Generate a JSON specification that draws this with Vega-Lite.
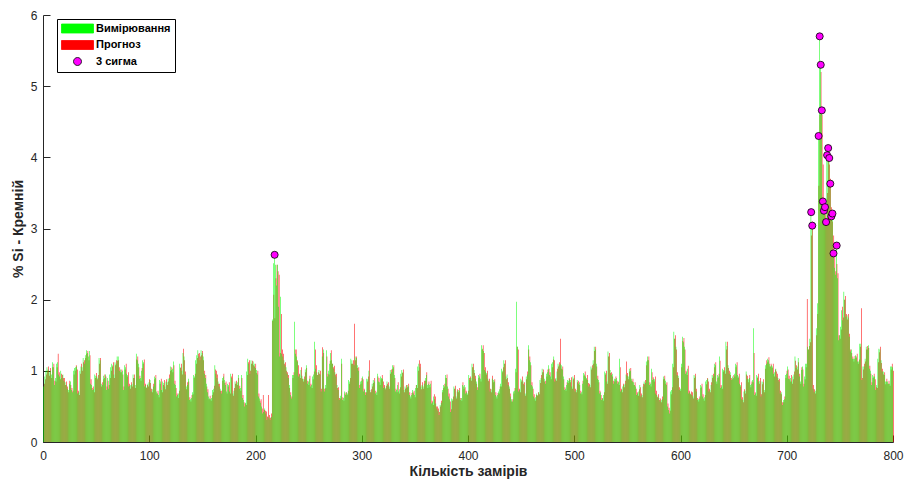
{
"$schema":"https://vega.github.io/schema/vega-lite/v6.json",
"width":850,"height":427,
"autosize":{"type":"none"},
"padding":{"left":43,"top":15,"right":12,"bottom":41},
"background":"white",
"config":{"view":{"stroke":null},"font":"Liberation Sans",
"axis":{"grid":false,"domainColor":"#262626","tickColor":"#262626","labelColor":"#262626","titleColor":"#262626","labelFont":"Liberation Sans","titleFont":"Liberation Sans","labelFontSize":12,"titleFontSize":14,"titleFontWeight":"bold","tickSize":-7,"labelPadding":13,"labelFlush":false,"domainWidth":1,"tickWidth":1}},
"datasets":{
"main":[
{"n":1,"meas":0.78,"pred":0.82},{"n":2,"meas":0.92,"pred":0.88},{"n":3,"meas":1.0,"pred":0.95},{"n":4,"meas":1.05,"pred":1.0},{"n":5,"meas":1.02,"pred":1.06},{"n":6,"meas":0.98,"pred":0.93},{"n":7,"meas":1.0,"pred":1.04},{"n":8,"meas":0.95,"pred":0.9},{"n":9,"meas":1.12,"pred":1.05},{"n":10,"meas":1.05,"pred":1.1},
{"n":11,"meas":0.8,"pred":0.86},{"n":12,"meas":0.9,"pred":0.85},{"n":13,"meas":1.1,"pred":1.05},{"n":14,"meas":1.12,"pred":1.24},{"n":15,"meas":0.95,"pred":0.98},{"n":16,"meas":0.92,"pred":0.88},{"n":17,"meas":1.0,"pred":0.96},{"n":18,"meas":0.9,"pred":0.94},{"n":19,"meas":0.95,"pred":0.9},{"n":20,"meas":0.86,"pred":0.9},
{"n":21,"meas":0.84,"pred":0.8},{"n":22,"meas":0.8,"pred":0.85},{"n":23,"meas":0.75,"pred":0.78},{"n":24,"meas":0.73,"pred":0.7},{"n":25,"meas":0.82,"pred":0.86},{"n":26,"meas":0.85,"pred":0.8},{"n":27,"meas":0.73,"pred":0.76},{"n":28,"meas":0.7,"pred":0.72},{"n":29,"meas":1.0,"pred":0.95},{"n":30,"meas":1.04,"pred":1.0},
{"n":31,"meas":1.05,"pred":1.08},{"n":32,"meas":1.06,"pred":1.02},{"n":33,"meas":0.68,"pred":0.72},{"n":34,"meas":0.7,"pred":0.66},{"n":35,"meas":1.0,"pred":0.96},{"n":36,"meas":1.06,"pred":1.1},{"n":37,"meas":1.05,"pred":1.0},{"n":38,"meas":1.18,"pred":1.12},{"n":39,"meas":1.1,"pred":1.15},{"n":40,"meas":1.22,"pred":1.18},
{"n":41,"meas":1.29,"pred":1.24},{"n":42,"meas":1.25,"pred":1.28},{"n":43,"meas":1.2,"pred":1.15},{"n":44,"meas":1.28,"pred":1.22},{"n":45,"meas":0.82,"pred":0.88},{"n":46,"meas":0.8,"pred":0.76},{"n":47,"meas":0.73,"pred":0.78},{"n":48,"meas":0.74,"pred":0.7},{"n":49,"meas":0.95,"pred":0.9},{"n":50,"meas":0.93,"pred":0.97},
{"n":51,"meas":0.92,"pred":0.88},{"n":52,"meas":0.9,"pred":0.94},{"n":53,"meas":1.18,"pred":1.1},{"n":54,"meas":1.15,"pred":1.18},{"n":55,"meas":0.82,"pred":0.78},{"n":56,"meas":0.8,"pred":0.84},{"n":57,"meas":0.93,"pred":0.88},{"n":58,"meas":0.9,"pred":0.95},{"n":59,"meas":0.95,"pred":0.92},{"n":60,"meas":0.73,"pred":0.78},
{"n":61,"meas":0.9,"pred":0.86},{"n":62,"meas":0.75,"pred":0.8},{"n":63,"meas":0.95,"pred":0.9},{"n":64,"meas":1.05,"pred":1.0},{"n":65,"meas":1.1,"pred":1.06},{"n":66,"meas":1.08,"pred":1.12},{"n":67,"meas":0.95,"pred":0.9},{"n":68,"meas":1.12,"pred":1.08},{"n":69,"meas":1.1,"pred":1.15},{"n":70,"meas":1.2,"pred":1.14},
{"n":71,"meas":1.2,"pred":1.15},{"n":72,"meas":1.0,"pred":1.05},{"n":73,"meas":1.02,"pred":0.98},{"n":74,"meas":0.98,"pred":1.02},{"n":75,"meas":1.0,"pred":0.95},{"n":76,"meas":0.73,"pred":0.78},{"n":77,"meas":1.08,"pred":1.02},{"n":78,"meas":1.05,"pred":1.1},{"n":79,"meas":0.96,"pred":0.92},{"n":80,"meas":0.94,"pred":0.98},
{"n":81,"meas":0.78,"pred":0.82},{"n":82,"meas":0.79,"pred":0.75},{"n":83,"meas":0.8,"pred":0.84},{"n":84,"meas":0.81,"pred":0.78},{"n":85,"meas":0.95,"pred":0.9},{"n":86,"meas":0.9,"pred":0.95},{"n":87,"meas":0.8,"pred":0.76},{"n":88,"meas":1.24,"pred":1.16},{"n":89,"meas":1.15,"pred":1.2},{"n":90,"meas":1.1,"pred":1.05},
{"n":91,"meas":0.89,"pred":0.93},{"n":92,"meas":0.9,"pred":0.86},{"n":93,"meas":1.0,"pred":1.04},{"n":94,"meas":1.15,"pred":1.1},{"n":95,"meas":1.12,"pred":1.16},{"n":96,"meas":0.78,"pred":0.82},{"n":97,"meas":0.8,"pred":0.76},{"n":98,"meas":0.77,"pred":0.8},{"n":99,"meas":0.82,"pred":0.78},{"n":100,"meas":0.84,"pred":0.88},
{"n":101,"meas":0.87,"pred":0.83},{"n":102,"meas":0.71,"pred":0.75},{"n":103,"meas":0.74,"pred":0.7},{"n":104,"meas":0.78,"pred":0.82},{"n":105,"meas":0.92,"pred":0.88},{"n":106,"meas":0.9,"pred":0.94},{"n":107,"meas":0.71,"pred":0.68},{"n":108,"meas":0.68,"pred":0.72},{"n":109,"meas":0.66,"pred":0.63},{"n":110,"meas":0.87,"pred":0.82},
{"n":111,"meas":0.85,"pred":0.89},{"n":112,"meas":0.73,"pred":0.7},{"n":113,"meas":0.85,"pred":0.8},{"n":114,"meas":0.83,"pred":0.87},{"n":115,"meas":0.78,"pred":0.74},{"n":116,"meas":0.85,"pred":0.88},{"n":117,"meas":0.84,"pred":0.8},{"n":118,"meas":0.89,"pred":0.85},{"n":119,"meas":0.9,"pred":0.95},{"n":120,"meas":1.06,"pred":1.0},
{"n":121,"meas":1.01,"pred":1.05},{"n":122,"meas":1.03,"pred":0.98},{"n":123,"meas":1.13,"pred":1.08},{"n":124,"meas":0.82,"pred":0.86},{"n":125,"meas":0.8,"pred":0.76},{"n":126,"meas":0.64,"pred":0.68},{"n":127,"meas":0.66,"pred":0.62},{"n":128,"meas":0.68,"pred":0.72},{"n":129,"meas":1.1,"pred":1.04},{"n":130,"meas":1.05,"pred":1.1},
{"n":131,"meas":1.0,"pred":0.95},{"n":132,"meas":1.25,"pred":1.31},{"n":133,"meas":1.2,"pred":1.15},{"n":134,"meas":0.95,"pred":0.99},{"n":135,"meas":0.78,"pred":0.74},{"n":136,"meas":0.8,"pred":0.84},{"n":137,"meas":0.89,"pred":0.85},{"n":138,"meas":0.59,"pred":0.63},{"n":139,"meas":0.6,"pred":0.57},{"n":140,"meas":0.62,"pred":0.66},
{"n":141,"meas":0.7,"pred":0.67},{"n":142,"meas":0.94,"pred":0.9},{"n":143,"meas":0.92,"pred":0.96},{"n":144,"meas":1.15,"pred":1.1},{"n":145,"meas":1.22,"pred":1.18},{"n":146,"meas":1.29,"pred":1.24},{"n":147,"meas":1.2,"pred":1.25},{"n":148,"meas":1.15,"pred":1.2},{"n":149,"meas":1.29,"pred":1.22},{"n":150,"meas":1.25,"pred":1.28},
{"n":151,"meas":1.2,"pred":1.15},{"n":152,"meas":0.96,"pred":1.0},{"n":153,"meas":0.9,"pred":0.94},{"n":154,"meas":0.82,"pred":0.78},{"n":155,"meas":0.7,"pred":0.74},{"n":156,"meas":0.64,"pred":0.6},{"n":157,"meas":0.61,"pred":0.65},{"n":158,"meas":0.6,"pred":0.58},{"n":159,"meas":0.62,"pred":0.66},{"n":160,"meas":0.73,"pred":0.7},
{"n":161,"meas":0.75,"pred":0.79},{"n":162,"meas":1.08,"pred":1.02},{"n":163,"meas":0.96,"pred":1.0},{"n":164,"meas":0.9,"pred":0.95},{"n":165,"meas":0.85,"pred":0.82},{"n":166,"meas":0.78,"pred":0.82},{"n":167,"meas":0.75,"pred":0.72},{"n":168,"meas":0.68,"pred":0.72},{"n":169,"meas":0.9,"pred":0.86},{"n":170,"meas":0.92,"pred":0.96},
{"n":171,"meas":0.87,"pred":0.83},{"n":172,"meas":0.8,"pred":0.85},{"n":173,"meas":0.71,"pred":0.68},{"n":174,"meas":0.82,"pred":0.78},{"n":175,"meas":0.8,"pred":0.84},{"n":176,"meas":0.71,"pred":0.68},{"n":177,"meas":0.96,"pred":0.92},{"n":178,"meas":0.9,"pred":0.96},{"n":179,"meas":0.68,"pred":0.65},{"n":180,"meas":0.72,"pred":0.76},
{"n":181,"meas":0.85,"pred":0.82},{"n":182,"meas":0.82,"pred":0.86},{"n":183,"meas":0.84,"pred":0.8},{"n":184,"meas":0.94,"pred":0.9},{"n":185,"meas":0.75,"pred":0.79},{"n":186,"meas":0.76,"pred":0.72},{"n":187,"meas":0.94,"pred":0.9},{"n":188,"meas":0.62,"pred":0.66},{"n":189,"meas":0.59,"pred":0.56},{"n":190,"meas":0.5,"pred":0.54},
{"n":191,"meas":0.55,"pred":0.52},{"n":192,"meas":0.99,"pred":0.94},{"n":193,"meas":1.17,"pred":1.12},{"n":194,"meas":1.1,"pred":1.15},{"n":195,"meas":0.96,"pred":1.0},{"n":196,"meas":1.15,"pred":1.1},{"n":197,"meas":1.1,"pred":1.14},{"n":198,"meas":1.13,"pred":1.08},{"n":199,"meas":1.1,"pred":1.06},{"n":200,"meas":1.04,"pred":1.1},
{"n":201,"meas":1.01,"pred":0.97},{"n":202,"meas":0.95,"pred":1.0},{"n":203,"meas":0.64,"pred":0.68},{"n":204,"meas":0.61,"pred":0.58},{"n":205,"meas":0.55,"pred":0.6},{"n":206,"meas":0.5,"pred":0.47},{"n":207,"meas":0.4,"pred":0.66},{"n":208,"meas":0.42,"pred":0.45},{"n":209,"meas":0.47,"pred":0.44},{"n":210,"meas":0.4,"pred":0.43},
{"n":211,"meas":0.31,"pred":0.36},{"n":212,"meas":0.35,"pred":0.66},{"n":213,"meas":0.33,"pred":0.38},{"n":214,"meas":0.31,"pred":0.34},{"n":215,"meas":0.35,"pred":0.4},{"n":216,"meas":1.72,"pred":1.7},{"n":217,"meas":2.51,"pred":2.07},{"n":218,"meas":2.63,"pred":1.74},{"n":219,"meas":2.49,"pred":2.3},{"n":220,"meas":2.2,"pred":2.49},
{"n":221,"meas":2.49,"pred":2.4},{"n":222,"meas":1.9,"pred":2.35},{"n":223,"meas":1.2,"pred":1.25},{"n":224,"meas":2.04,"pred":1.8},{"n":225,"meas":1.24,"pred":1.3},{"n":226,"meas":1.2,"pred":1.24},{"n":227,"meas":1.15,"pred":1.1},{"n":228,"meas":1.08,"pred":1.12},{"n":229,"meas":1.05,"pred":1.0},{"n":230,"meas":0.96,"pred":0.98},
{"n":231,"meas":0.9,"pred":0.94},{"n":232,"meas":0.8,"pred":0.76},{"n":233,"meas":0.66,"pred":0.7},{"n":234,"meas":0.61,"pred":0.64},{"n":235,"meas":0.94,"pred":0.9},{"n":236,"meas":0.94,"pred":0.98},{"n":237,"meas":1.69,"pred":1.3},{"n":238,"meas":1.24,"pred":1.3},{"n":239,"meas":1.2,"pred":1.15},{"n":240,"meas":1.13,"pred":1.08},
{"n":241,"meas":0.92,"pred":0.96},{"n":242,"meas":0.95,"pred":0.9},{"n":243,"meas":1.01,"pred":1.05},{"n":244,"meas":0.93,"pred":0.89},{"n":245,"meas":0.89,"pred":0.85},{"n":246,"meas":0.88,"pred":0.92},{"n":247,"meas":1.02,"pred":0.98},{"n":248,"meas":1.08,"pred":1.04},{"n":249,"meas":0.82,"pred":0.86},{"n":250,"meas":0.85,"pred":0.8},
{"n":251,"meas":0.89,"pred":0.93},{"n":252,"meas":0.78,"pred":0.82},{"n":253,"meas":0.8,"pred":0.76},{"n":254,"meas":0.92,"pred":0.88},{"n":255,"meas":0.95,"pred":0.99},{"n":256,"meas":1.41,"pred":1.3},{"n":257,"meas":1.03,"pred":1.08},{"n":258,"meas":0.98,"pred":0.94},{"n":259,"meas":0.94,"pred":0.98},{"n":260,"meas":1.01,"pred":0.96},
{"n":261,"meas":0.95,"pred":1.0},{"n":262,"meas":0.71,"pred":0.75},{"n":263,"meas":1.2,"pred":1.33},{"n":264,"meas":1.3,"pred":1.25},{"n":265,"meas":0.71,"pred":0.75},{"n":266,"meas":0.8,"pred":0.76},{"n":267,"meas":1.29,"pred":1.2},{"n":268,"meas":0.92,"pred":0.96},{"n":269,"meas":1.0,"pred":0.95},{"n":270,"meas":1.1,"pred":1.14},
{"n":271,"meas":1.25,"pred":1.29},{"n":272,"meas":1.15,"pred":1.1},{"n":273,"meas":1.1,"pred":1.05},{"n":274,"meas":1.03,"pred":1.07},{"n":275,"meas":0.98,"pred":0.95},{"n":276,"meas":0.92,"pred":0.96},{"n":277,"meas":0.8,"pred":0.76},{"n":278,"meas":0.73,"pred":0.77},{"n":279,"meas":0.59,"pred":0.62},{"n":280,"meas":0.65,"pred":0.61},
{"n":281,"meas":1.17,"pred":1.1},{"n":282,"meas":0.59,"pred":0.63},{"n":283,"meas":0.62,"pred":0.58},{"n":284,"meas":0.71,"pred":0.68},{"n":285,"meas":0.66,"pred":0.7},{"n":286,"meas":0.7,"pred":0.66},{"n":287,"meas":0.68,"pred":0.72},{"n":288,"meas":0.87,"pred":0.82},{"n":289,"meas":0.85,"pred":0.9},{"n":290,"meas":1.17,"pred":1.1},
{"n":291,"meas":1.15,"pred":1.1},{"n":292,"meas":1.1,"pred":1.15},{"n":293,"meas":1.08,"pred":1.66},{"n":294,"meas":1.2,"pred":1.15},{"n":295,"meas":1.18,"pred":1.2},{"n":296,"meas":1.08,"pred":1.04},{"n":297,"meas":1.0,"pred":1.05},{"n":298,"meas":0.76,"pred":0.8},{"n":299,"meas":0.85,"pred":0.82},{"n":300,"meas":0.86,"pred":0.9},
{"n":301,"meas":0.92,"pred":0.88},{"n":302,"meas":0.71,"pred":0.75},{"n":303,"meas":0.73,"pred":0.7},{"n":304,"meas":0.66,"pred":0.7},{"n":305,"meas":0.89,"pred":0.85},{"n":306,"meas":0.88,"pred":0.92},{"n":307,"meas":1.0,"pred":1.15},{"n":308,"meas":0.73,"pred":0.7},{"n":309,"meas":0.7,"pred":0.74},{"n":310,"meas":0.82,"pred":0.78},
{"n":311,"meas":0.87,"pred":0.83},{"n":312,"meas":0.85,"pred":0.9},{"n":313,"meas":0.68,"pred":0.72},{"n":314,"meas":0.7,"pred":0.66},{"n":315,"meas":0.96,"pred":0.92},{"n":316,"meas":0.85,"pred":0.9},{"n":317,"meas":0.84,"pred":0.8},{"n":318,"meas":0.92,"pred":0.88},{"n":319,"meas":0.9,"pred":0.94},{"n":320,"meas":0.89,"pred":0.85},
{"n":321,"meas":0.76,"pred":0.8},{"n":322,"meas":0.78,"pred":0.74},{"n":323,"meas":0.76,"pred":0.79},{"n":324,"meas":0.85,"pred":0.82},{"n":325,"meas":0.8,"pred":0.84},{"n":326,"meas":0.78,"pred":0.75},{"n":327,"meas":1.01,"pred":0.96},{"n":328,"meas":0.98,"pred":1.02},{"n":329,"meas":1.08,"pred":1.03},{"n":330,"meas":1.05,"pred":1.08},
{"n":331,"meas":0.94,"pred":0.9},{"n":332,"meas":0.71,"pred":0.75},{"n":333,"meas":0.73,"pred":0.7},{"n":334,"meas":0.8,"pred":0.84},{"n":335,"meas":0.71,"pred":0.68},{"n":336,"meas":0.74,"pred":0.77},{"n":337,"meas":0.96,"pred":0.92},{"n":338,"meas":1.01,"pred":0.97},{"n":339,"meas":0.98,"pred":1.02},{"n":340,"meas":0.73,"pred":0.7},
{"n":341,"meas":0.78,"pred":0.75},{"n":342,"meas":0.76,"pred":0.8},{"n":343,"meas":0.8,"pred":0.77},{"n":344,"meas":0.78,"pred":0.82},{"n":345,"meas":0.66,"pred":0.7},{"n":346,"meas":0.64,"pred":0.61},{"n":347,"meas":0.66,"pred":0.69},{"n":348,"meas":0.73,"pred":0.7},{"n":349,"meas":0.68,"pred":0.72},{"n":350,"meas":0.66,"pred":0.63},
{"n":351,"meas":0.76,"pred":0.8},{"n":352,"meas":0.8,"pred":0.76},{"n":353,"meas":1.06,"pred":1.0},{"n":354,"meas":1.1,"pred":1.15},{"n":355,"meas":1.05,"pred":1.1},{"n":356,"meas":0.78,"pred":0.74},{"n":357,"meas":0.8,"pred":0.84},{"n":358,"meas":0.78,"pred":0.75},{"n":359,"meas":0.82,"pred":0.86},{"n":360,"meas":0.9,"pred":0.86},
{"n":361,"meas":0.94,"pred":0.98},{"n":362,"meas":0.8,"pred":0.76},{"n":363,"meas":0.82,"pred":0.85},{"n":364,"meas":0.8,"pred":0.77},{"n":365,"meas":0.82,"pred":0.86},{"n":366,"meas":0.54,"pred":0.58},{"n":367,"meas":0.56,"pred":0.52},{"n":368,"meas":0.64,"pred":0.67},{"n":369,"meas":0.6,"pred":0.64},{"n":370,"meas":0.54,"pred":0.5},
{"n":371,"meas":0.47,"pred":0.5},{"n":372,"meas":0.44,"pred":0.47},{"n":373,"meas":0.38,"pred":0.42},{"n":374,"meas":0.52,"pred":0.5},{"n":375,"meas":0.55,"pred":0.58},{"n":376,"meas":0.73,"pred":0.7},{"n":377,"meas":0.8,"pred":0.76},{"n":378,"meas":0.78,"pred":0.82},{"n":379,"meas":0.94,"pred":0.9},{"n":380,"meas":0.9,"pred":0.95},
{"n":381,"meas":0.78,"pred":0.75},{"n":382,"meas":0.64,"pred":0.68},{"n":383,"meas":0.6,"pred":0.57},{"n":384,"meas":0.42,"pred":0.46},{"n":385,"meas":0.61,"pred":0.58},{"n":386,"meas":0.6,"pred":0.64},{"n":387,"meas":0.78,"pred":0.75},{"n":388,"meas":0.75,"pred":0.79},{"n":389,"meas":0.64,"pred":0.61},{"n":390,"meas":0.71,"pred":0.74},
{"n":391,"meas":0.73,"pred":0.7},{"n":392,"meas":0.72,"pred":0.76},{"n":393,"meas":0.59,"pred":0.62},{"n":394,"meas":0.62,"pred":0.58},{"n":395,"meas":0.8,"pred":0.84},{"n":396,"meas":0.78,"pred":0.75},{"n":397,"meas":0.8,"pred":0.77},{"n":398,"meas":0.68,"pred":0.72},{"n":399,"meas":0.7,"pred":0.66},{"n":400,"meas":0.68,"pred":0.72},
{"n":401,"meas":0.94,"pred":0.9},{"n":402,"meas":0.87,"pred":0.92},{"n":403,"meas":0.9,"pred":0.86},{"n":404,"meas":1.1,"pred":1.05},{"n":405,"meas":1.05,"pred":1.1},{"n":406,"meas":1.01,"pred":0.97},{"n":407,"meas":0.89,"pred":0.93},{"n":408,"meas":0.85,"pred":0.82},{"n":409,"meas":0.73,"pred":0.77},{"n":410,"meas":0.94,"pred":0.9},
{"n":411,"meas":0.92,"pred":0.96},{"n":412,"meas":0.89,"pred":0.85},{"n":413,"meas":1.36,"pred":1.3},{"n":414,"meas":1.31,"pred":1.36},{"n":415,"meas":1.28,"pred":1.25},{"n":416,"meas":1.01,"pred":1.05},{"n":417,"meas":0.99,"pred":0.95},{"n":418,"meas":0.97,"pred":1.0},{"n":419,"meas":0.89,"pred":0.86},{"n":420,"meas":0.85,"pred":0.89},
{"n":421,"meas":0.71,"pred":0.75},{"n":422,"meas":0.74,"pred":0.7},{"n":423,"meas":0.89,"pred":0.93},{"n":424,"meas":0.87,"pred":0.84},{"n":425,"meas":0.85,"pred":0.88},{"n":426,"meas":0.66,"pred":0.7},{"n":427,"meas":0.64,"pred":0.61},{"n":428,"meas":0.66,"pred":0.69},{"n":429,"meas":0.71,"pred":0.68},{"n":430,"meas":0.74,"pred":0.78},
{"n":431,"meas":0.82,"pred":0.78},{"n":432,"meas":1.03,"pred":0.98},{"n":433,"meas":1.0,"pred":1.05},{"n":434,"meas":1.15,"pred":1.1},{"n":435,"meas":1.1,"pred":1.15},{"n":436,"meas":0.92,"pred":0.88},{"n":437,"meas":0.95,"pred":0.9},{"n":438,"meas":0.8,"pred":0.84},{"n":439,"meas":0.78,"pred":0.75},{"n":440,"meas":0.64,"pred":0.68},
{"n":441,"meas":0.6,"pred":0.57},{"n":442,"meas":0.57,"pred":0.6},{"n":443,"meas":0.71,"pred":0.68},{"n":444,"meas":0.72,"pred":0.76},{"n":445,"meas":1.03,"pred":0.98},{"n":446,"meas":1.97,"pred":1.34},{"n":447,"meas":1.34,"pred":1.3},{"n":448,"meas":0.71,"pred":0.75},{"n":449,"meas":0.73,"pred":0.7},{"n":450,"meas":0.89,"pred":0.85},
{"n":451,"meas":0.87,"pred":0.92},{"n":452,"meas":0.85,"pred":0.82},{"n":453,"meas":0.8,"pred":0.84},{"n":454,"meas":0.68,"pred":0.65},{"n":455,"meas":0.92,"pred":0.88},{"n":456,"meas":0.95,"pred":0.99},{"n":457,"meas":1.36,"pred":1.3},{"n":458,"meas":1.15,"pred":1.2},{"n":459,"meas":1.12,"pred":1.08},{"n":460,"meas":0.8,"pred":0.84},
{"n":461,"meas":0.78,"pred":0.75},{"n":462,"meas":0.64,"pred":0.67},{"n":463,"meas":0.61,"pred":0.58},{"n":464,"meas":0.63,"pred":0.66},{"n":465,"meas":0.68,"pred":0.65},{"n":466,"meas":0.66,"pred":0.7},{"n":467,"meas":0.7,"pred":0.67},{"n":468,"meas":0.87,"pred":0.83},{"n":469,"meas":0.9,"pred":0.94},{"n":470,"meas":1.03,"pred":0.98},
{"n":471,"meas":0.98,"pred":1.02},{"n":472,"meas":0.89,"pred":0.85},{"n":473,"meas":0.82,"pred":0.86},{"n":474,"meas":0.96,"pred":0.92},{"n":475,"meas":0.98,"pred":1.02},{"n":476,"meas":1.08,"pred":1.03},{"n":477,"meas":0.94,"pred":0.98},{"n":478,"meas":0.92,"pred":0.88},{"n":479,"meas":1.1,"pred":1.05},{"n":480,"meas":1.12,"pred":1.16},
{"n":481,"meas":1.2,"pred":1.15},{"n":482,"meas":0.85,"pred":0.88},{"n":483,"meas":0.9,"pred":0.86},{"n":484,"meas":0.99,"pred":1.03},{"n":485,"meas":1.1,"pred":1.06},{"n":486,"meas":1.08,"pred":1.12},{"n":487,"meas":1.1,"pred":1.45},{"n":488,"meas":1.08,"pred":1.03},{"n":489,"meas":1.02,"pred":1.06},{"n":490,"meas":0.92,"pred":0.88},
{"n":491,"meas":0.73,"pred":0.77},{"n":492,"meas":0.75,"pred":0.72},{"n":493,"meas":0.8,"pred":0.84},{"n":494,"meas":0.87,"pred":0.83},{"n":495,"meas":0.86,"pred":0.9},{"n":496,"meas":0.88,"pred":0.84},{"n":497,"meas":0.87,"pred":0.91},{"n":498,"meas":0.78,"pred":0.75},{"n":499,"meas":0.92,"pred":0.88},{"n":500,"meas":0.9,"pred":0.94},
{"n":501,"meas":0.71,"pred":0.75},{"n":502,"meas":0.73,"pred":0.7},{"n":503,"meas":0.87,"pred":0.84},{"n":504,"meas":0.82,"pred":0.86},{"n":505,"meas":0.84,"pred":0.8},{"n":506,"meas":0.68,"pred":0.72},{"n":507,"meas":0.7,"pred":0.67},{"n":508,"meas":0.82,"pred":0.86},{"n":509,"meas":0.97,"pred":0.93},{"n":510,"meas":0.95,"pred":0.99},
{"n":511,"meas":0.92,"pred":0.88},{"n":512,"meas":0.9,"pred":0.94},{"n":513,"meas":0.87,"pred":0.83},{"n":514,"meas":0.78,"pred":0.82},{"n":515,"meas":0.8,"pred":0.77},{"n":516,"meas":1.06,"pred":1.02},{"n":517,"meas":1.04,"pred":1.08},{"n":518,"meas":1.15,"pred":1.1},{"n":519,"meas":1.34,"pred":1.28},{"n":520,"meas":1.3,"pred":1.34},
{"n":521,"meas":1.1,"pred":1.06},{"n":522,"meas":0.89,"pred":0.93},{"n":523,"meas":0.87,"pred":0.84},{"n":524,"meas":0.68,"pred":0.72},{"n":525,"meas":0.7,"pred":0.66},{"n":526,"meas":0.59,"pred":0.62},{"n":527,"meas":0.61,"pred":0.58},{"n":528,"meas":0.66,"pred":0.7},{"n":529,"meas":0.99,"pred":0.95},{"n":530,"meas":0.97,"pred":1.0},
{"n":531,"meas":0.85,"pred":0.82},{"n":532,"meas":1.27,"pred":1.2},{"n":533,"meas":1.2,"pred":1.25},{"n":534,"meas":1.01,"pred":0.97},{"n":535,"meas":0.94,"pred":0.98},{"n":536,"meas":0.96,"pred":0.92},{"n":537,"meas":0.82,"pred":0.86},{"n":538,"meas":0.89,"pred":0.85},{"n":539,"meas":0.88,"pred":0.92},{"n":540,"meas":0.9,"pred":0.86},
{"n":541,"meas":0.82,"pred":0.85},{"n":542,"meas":0.84,"pred":0.8},{"n":543,"meas":1.17,"pred":1.05},{"n":544,"meas":0.71,"pred":0.75},{"n":545,"meas":0.73,"pred":0.7},{"n":546,"meas":0.78,"pred":0.82},{"n":547,"meas":0.8,"pred":0.77},{"n":548,"meas":0.82,"pred":0.86},{"n":549,"meas":0.95,"pred":1.13},{"n":550,"meas":0.93,"pred":0.97},
{"n":551,"meas":0.92,"pred":0.88},{"n":552,"meas":1.03,"pred":0.99},{"n":553,"meas":1.0,"pred":1.04},{"n":554,"meas":0.89,"pred":0.86},{"n":555,"meas":0.85,"pred":0.89},{"n":556,"meas":0.84,"pred":0.8},{"n":557,"meas":0.8,"pred":0.84},{"n":558,"meas":0.78,"pred":0.75},{"n":559,"meas":0.66,"pred":0.7},{"n":560,"meas":0.68,"pred":0.65},
{"n":561,"meas":0.71,"pred":0.74},{"n":562,"meas":0.8,"pred":0.77},{"n":563,"meas":0.64,"pred":0.68},{"n":564,"meas":0.66,"pred":0.63},{"n":565,"meas":0.78,"pred":0.82},{"n":566,"meas":0.85,"pred":0.81},{"n":567,"meas":0.83,"pred":0.87},{"n":568,"meas":1.13,"pred":1.08},{"n":569,"meas":1.2,"pred":1.15},{"n":570,"meas":1.15,"pred":1.2},
{"n":571,"meas":0.8,"pred":0.84},{"n":572,"meas":0.82,"pred":0.78},{"n":573,"meas":1.03,"pred":0.98},{"n":574,"meas":0.87,"pred":0.91},{"n":575,"meas":0.89,"pred":0.85},{"n":576,"meas":0.88,"pred":0.92},{"n":577,"meas":0.68,"pred":0.72},{"n":578,"meas":0.66,"pred":0.63},{"n":579,"meas":0.64,"pred":0.67},{"n":580,"meas":0.62,"pred":0.59},
{"n":581,"meas":0.57,"pred":0.61},{"n":582,"meas":0.59,"pred":0.56},{"n":583,"meas":0.6,"pred":0.64},{"n":584,"meas":0.92,"pred":0.88},{"n":585,"meas":0.89,"pred":0.93},{"n":586,"meas":0.86,"pred":0.82},{"n":587,"meas":0.8,"pred":0.84},{"n":588,"meas":0.5,"pred":0.54},{"n":589,"meas":0.45,"pred":0.48},{"n":590,"meas":0.4,"pred":0.44},
{"n":591,"meas":0.71,"pred":0.67},{"n":592,"meas":0.73,"pred":0.77},{"n":593,"meas":1.1,"pred":1.05},{"n":594,"meas":1.55,"pred":1.45},{"n":595,"meas":1.45,"pred":1.5},{"n":596,"meas":1.34,"pred":1.3},{"n":597,"meas":0.94,"pred":0.98},{"n":598,"meas":0.93,"pred":0.9},{"n":599,"meas":0.73,"pred":0.77},{"n":600,"meas":0.75,"pred":0.72},
{"n":601,"meas":1.1,"pred":1.05},{"n":602,"meas":1.48,"pred":1.42},{"n":603,"meas":1.4,"pred":1.46},{"n":604,"meas":1.34,"pred":1.3},{"n":605,"meas":0.96,"pred":1.0},{"n":606,"meas":0.98,"pred":0.94},{"n":607,"meas":1.03,"pred":1.07},{"n":608,"meas":0.68,"pred":0.72},{"n":609,"meas":0.7,"pred":0.67},{"n":610,"meas":0.68,"pred":0.71},
{"n":611,"meas":0.66,"pred":0.7},{"n":612,"meas":0.64,"pred":0.61},{"n":613,"meas":0.94,"pred":0.9},{"n":614,"meas":0.92,"pred":0.96},{"n":615,"meas":0.71,"pred":0.75},{"n":616,"meas":0.59,"pred":0.62},{"n":617,"meas":0.6,"pred":0.57},{"n":618,"meas":0.61,"pred":0.64},{"n":619,"meas":0.8,"pred":0.76},{"n":620,"meas":0.78,"pred":0.82},
{"n":621,"meas":0.64,"pred":0.67},{"n":622,"meas":0.61,"pred":0.58},{"n":623,"meas":0.63,"pred":0.66},{"n":624,"meas":0.85,"pred":0.81},{"n":625,"meas":0.87,"pred":0.9},{"n":626,"meas":0.89,"pred":0.85},{"n":627,"meas":0.71,"pred":0.75},{"n":628,"meas":0.73,"pred":0.7},{"n":629,"meas":0.8,"pred":0.84},{"n":630,"meas":0.94,"pred":0.9},
{"n":631,"meas":0.92,"pred":0.96},{"n":632,"meas":1.1,"pred":1.05},{"n":633,"meas":1.08,"pred":1.12},{"n":634,"meas":0.85,"pred":0.82},{"n":635,"meas":0.94,"pred":0.9},{"n":636,"meas":0.92,"pred":0.96},{"n":637,"meas":1.2,"pred":1.14},{"n":638,"meas":0.76,"pred":0.8},{"n":639,"meas":0.78,"pred":0.75},{"n":640,"meas":1.03,"pred":0.99},
{"n":641,"meas":1.01,"pred":1.05},{"n":642,"meas":1.0,"pred":0.96},{"n":643,"meas":1.41,"pred":1.3},{"n":644,"meas":1.35,"pred":1.41},{"n":645,"meas":1.08,"pred":1.04},{"n":646,"meas":0.96,"pred":1.0},{"n":647,"meas":0.98,"pred":0.94},{"n":648,"meas":0.87,"pred":0.9},{"n":649,"meas":0.92,"pred":0.88},{"n":650,"meas":0.9,"pred":0.94},
{"n":651,"meas":0.96,"pred":0.92},{"n":652,"meas":1.1,"pred":1.05},{"n":653,"meas":1.08,"pred":1.12},{"n":654,"meas":0.94,"pred":0.9},{"n":655,"meas":0.92,"pred":0.96},{"n":656,"meas":0.82,"pred":0.78},{"n":657,"meas":0.8,"pred":0.84},{"n":658,"meas":0.6,"pred":0.63},{"n":659,"meas":0.59,"pred":0.56},{"n":660,"meas":0.71,"pred":0.74},
{"n":661,"meas":0.72,"pred":0.68},{"n":662,"meas":0.99,"pred":0.95},{"n":663,"meas":0.89,"pred":0.93},{"n":664,"meas":0.88,"pred":0.84},{"n":665,"meas":0.9,"pred":0.94},{"n":666,"meas":0.8,"pred":0.77},{"n":667,"meas":0.82,"pred":0.85},{"n":668,"meas":0.87,"pred":0.84},{"n":669,"meas":1.6,"pred":1.25},{"n":670,"meas":0.66,"pred":0.7},
{"n":671,"meas":0.68,"pred":0.65},{"n":672,"meas":0.94,"pred":0.9},{"n":673,"meas":0.92,"pred":0.96},{"n":674,"meas":0.85,"pred":0.82},{"n":675,"meas":0.86,"pred":0.9},{"n":676,"meas":0.64,"pred":0.67},{"n":677,"meas":0.85,"pred":0.81},{"n":678,"meas":0.84,"pred":0.88},{"n":679,"meas":0.73,"pred":0.7},{"n":680,"meas":1.08,"pred":1.03},
{"n":681,"meas":1.1,"pred":1.15},{"n":682,"meas":1.17,"pred":1.12},{"n":683,"meas":1.15,"pred":1.19},{"n":684,"meas":1.1,"pred":1.06},{"n":685,"meas":1.06,"pred":1.1},{"n":686,"meas":1.08,"pred":1.04},{"n":687,"meas":1.06,"pred":1.1},{"n":688,"meas":0.96,"pred":0.92},{"n":689,"meas":0.98,"pred":1.02},{"n":690,"meas":1.03,"pred":0.99},
{"n":691,"meas":0.92,"pred":0.96},{"n":692,"meas":0.9,"pred":0.87},{"n":693,"meas":0.85,"pred":0.89},{"n":694,"meas":0.68,"pred":0.72},{"n":695,"meas":0.7,"pred":0.67},{"n":696,"meas":0.52,"pred":0.56},{"n":697,"meas":0.59,"pred":0.56},{"n":698,"meas":0.6,"pred":0.64},{"n":699,"meas":0.94,"pred":0.9},{"n":700,"meas":0.96,"pred":1.0},
{"n":701,"meas":1.06,"pred":1.02},{"n":702,"meas":0.89,"pred":0.93},{"n":703,"meas":0.88,"pred":0.85},{"n":704,"meas":0.9,"pred":0.94},{"n":705,"meas":0.85,"pred":0.82},{"n":706,"meas":0.92,"pred":0.88},{"n":707,"meas":0.95,"pred":0.99},{"n":708,"meas":1.2,"pred":1.14},{"n":709,"meas":1.04,"pred":1.08},{"n":710,"meas":1.06,"pred":1.02},
{"n":711,"meas":1.18,"pred":1.12},{"n":712,"meas":0.92,"pred":0.96},{"n":713,"meas":0.85,"pred":0.82},{"n":714,"meas":1.01,"pred":1.05},{"n":715,"meas":1.06,"pred":1.02},{"n":716,"meas":0.78,"pred":0.82},{"n":717,"meas":0.92,"pred":0.88},{"n":718,"meas":1.1,"pred":1.05},{"n":719,"meas":1.1,"pred":2.01},{"n":720,"meas":1.34,"pred":1.3},
{"n":721,"meas":1.3,"pred":1.35},{"n":722,"meas":1.45,"pred":1.4},{"n":723,"meas":3.23,"pred":2.9},{"n":724,"meas":3.04,"pred":3.1},{"n":725,"meas":0.75,"pred":0.8},{"n":726,"meas":0.7,"pred":0.74},{"n":727,"meas":0.72,"pred":0.68},{"n":728,"meas":1.6,"pred":1.5},{"n":729,"meas":1.95,"pred":1.8},{"n":730,"meas":4.3,"pred":3.6},
{"n":731,"meas":5.7,"pred":4.6},{"n":732,"meas":5.3,"pred":5.2},{"n":733,"meas":4.66,"pred":4.6},{"n":734,"meas":3.38,"pred":3.9},{"n":735,"meas":3.25,"pred":3.3},{"n":736,"meas":3.3,"pred":3.2},{"n":737,"meas":3.09,"pred":3.1},{"n":738,"meas":4.03,"pred":3.5},{"n":739,"meas":4.13,"pred":4.0},{"n":740,"meas":3.99,"pred":3.9},
{"n":741,"meas":3.63,"pred":3.7},{"n":742,"meas":3.17,"pred":3.3},{"n":743,"meas":3.21,"pred":3.1},{"n":744,"meas":2.65,"pred":2.9},{"n":745,"meas":2.45,"pred":2.6},{"n":746,"meas":2.35,"pred":2.4},{"n":747,"meas":2.76,"pred":2.5},{"n":748,"meas":2.3,"pred":2.37},{"n":749,"meas":1.43,"pred":1.5},{"n":750,"meas":1.5,"pred":1.45},
{"n":751,"meas":1.62,"pred":1.58},{"n":752,"meas":1.85,"pred":1.9},{"n":753,"meas":1.71,"pred":1.75},{"n":754,"meas":2.11,"pred":2.0},{"n":755,"meas":2.0,"pred":2.05},{"n":756,"meas":1.76,"pred":1.8},{"n":757,"meas":1.78,"pred":1.72},{"n":758,"meas":1.75,"pred":1.8},{"n":759,"meas":1.48,"pred":1.52},{"n":760,"meas":1.27,"pred":1.3},
{"n":761,"meas":1.3,"pred":1.25},{"n":762,"meas":1.17,"pred":1.2},{"n":763,"meas":1.17,"pred":1.13},{"n":764,"meas":1.17,"pred":1.21},{"n":765,"meas":1.22,"pred":1.18},{"n":766,"meas":1.2,"pred":1.24},{"n":767,"meas":1.13,"pred":1.1},{"n":768,"meas":1.13,"pred":1.16},{"n":769,"meas":1.38,"pred":1.34},{"n":770,"meas":1.38,"pred":1.88},
{"n":771,"meas":0.87,"pred":0.9},{"n":772,"meas":1.06,"pred":1.02},{"n":773,"meas":1.06,"pred":1.1},{"n":774,"meas":1.17,"pred":1.13},{"n":775,"meas":1.34,"pred":1.3},{"n":776,"meas":1.3,"pred":1.35},{"n":777,"meas":1.36,"pred":1.32},{"n":778,"meas":1.03,"pred":1.07},{"n":779,"meas":1.0,"pred":0.96},{"n":780,"meas":0.8,"pred":0.84},
{"n":781,"meas":0.94,"pred":0.9},{"n":782,"meas":0.92,"pred":0.96},{"n":783,"meas":0.92,"pred":0.88},{"n":784,"meas":0.73,"pred":0.77},{"n":785,"meas":0.8,"pred":0.76},{"n":786,"meas":1.17,"pred":1.12},{"n":787,"meas":1.31,"pred":1.26},{"n":788,"meas":1.3,"pred":1.34},{"n":789,"meas":1.15,"pred":1.11},{"n":790,"meas":0.99,"pred":1.03},
{"n":791,"meas":0.99,"pred":0.95},{"n":792,"meas":0.94,"pred":0.98},{"n":793,"meas":0.85,"pred":0.81},{"n":794,"meas":0.85,"pred":0.89},{"n":795,"meas":0.85,"pred":0.82},{"n":796,"meas":0.82,"pred":0.86},{"n":797,"meas":0.82,"pred":0.79},{"n":798,"meas":1.06,"pred":1.02},{"n":799,"meas":1.06,"pred":1.1},{"n":800,"meas":1.05,"pred":1.0}
],
"sigma":[{"n":218,"value":2.63},{"n":723,"value":3.23},{"n":724,"value":3.04},{"n":730,"value":4.3},{"n":731,"value":5.7},{"n":732,"value":5.3},{"n":733,"value":4.66},{"n":734,"value":3.38},{"n":735,"value":3.25},{"n":736,"value":3.3},{"n":737,"value":3.09},{"n":738,"value":4.03},{"n":739,"value":4.13},{"n":740,"value":3.99},{"n":741,"value":3.63},{"n":742,"value":3.17},{"n":743,"value":3.21},{"n":744,"value":2.65},{"n":747,"value":2.76}],
"legend":[{"series":"Вимірювання"},{"series":"Прогноз"},{"series":"3 сигма"}]
},
"layer":[
{"data":{"name":"main"},"mark":{"type":"bar","width":0.55,"xOffset":0.27,"color":"#ff0000"},
"encoding":{"x":{"field":"n","type":"quantitative","title":"Кількість замірів","scale":{"domain":[0,800],"nice":false,"padding":0,"zero":false},"axis":{"values":[0,100,200,300,400,500,600,700,800],"format":"d","titleY":22,"labelPadding":15}},
"y":{"field":"pred","type":"quantitative","title":"% Si - Кремній","scale":{"domain":[0,6],"nice":false},"axis":{"values":[0,1,2,3,4,5,6],"format":"d","titleX":-18}}}},
{"data":{"name":"main"},"mark":{"type":"bar","width":0.51,"xOffset":-0.27,"color":"#00ff00"},
"encoding":{"x":{"field":"n","type":"quantitative","title":"Кількість замірів"},"y":{"field":"meas","type":"quantitative","title":"% Si - Кремній"}}},
{"data":{"name":"sigma"},"mark":{"type":"point","filled":true,"fill":"#ff00ff","stroke":"#000000","strokeWidth":0.8,"size":50,"opacity":1},
"encoding":{"x":{"field":"n","type":"quantitative","title":"Кількість замірів"},"y":{"field":"value","type":"quantitative","title":"% Si - Кремній"}}},
{"data":{"name":"legend"},"mark":{"type":"point","filled":true,"opacity":0,"strokeWidth":0.8},
"encoding":{
"fill":{"field":"series","type":"nominal","scale":{"domain":["Вимірювання","Прогноз","3 сигма"],"range":["#00ff00","#ff0000","#ff00ff"]},
"legend":{"title":null,"orient":"none","legendX":14,"legendY":4,"symbolSize":100,"symbolOpacity":1,"labelFont":"Liberation Sans","labelFontWeight":"bold","labelFontSize":11,"labelColor":"#000000","labelOffset":24,"strokeColor":"#000000","fillColor":"#ffffff","padding":4,"rowPadding":3.5,"symbolStrokeWidth":0.8,"cornerRadius":0,"encode":{"symbols":{"update":{"opacity":{"value":1}}}}}},
"stroke":{"field":"series","type":"nominal","scale":{"domain":["Вимірювання","Прогноз","3 сигма"],"range":["#00ff00","#ff0000","#000000"]}},
"shape":{"field":"series","type":"nominal","scale":{"domain":["Вимірювання","Прогноз","3 сигма"],"range":["M-1,-0.9H5.4V0.9H-1Z","M-1,-0.9H5.4V0.9H-1Z","M1.4,0A0.8,0.8 0 1,0 3,0A0.8,0.8 0 1,0 1.4,0Z"]}}
}}
]
}
